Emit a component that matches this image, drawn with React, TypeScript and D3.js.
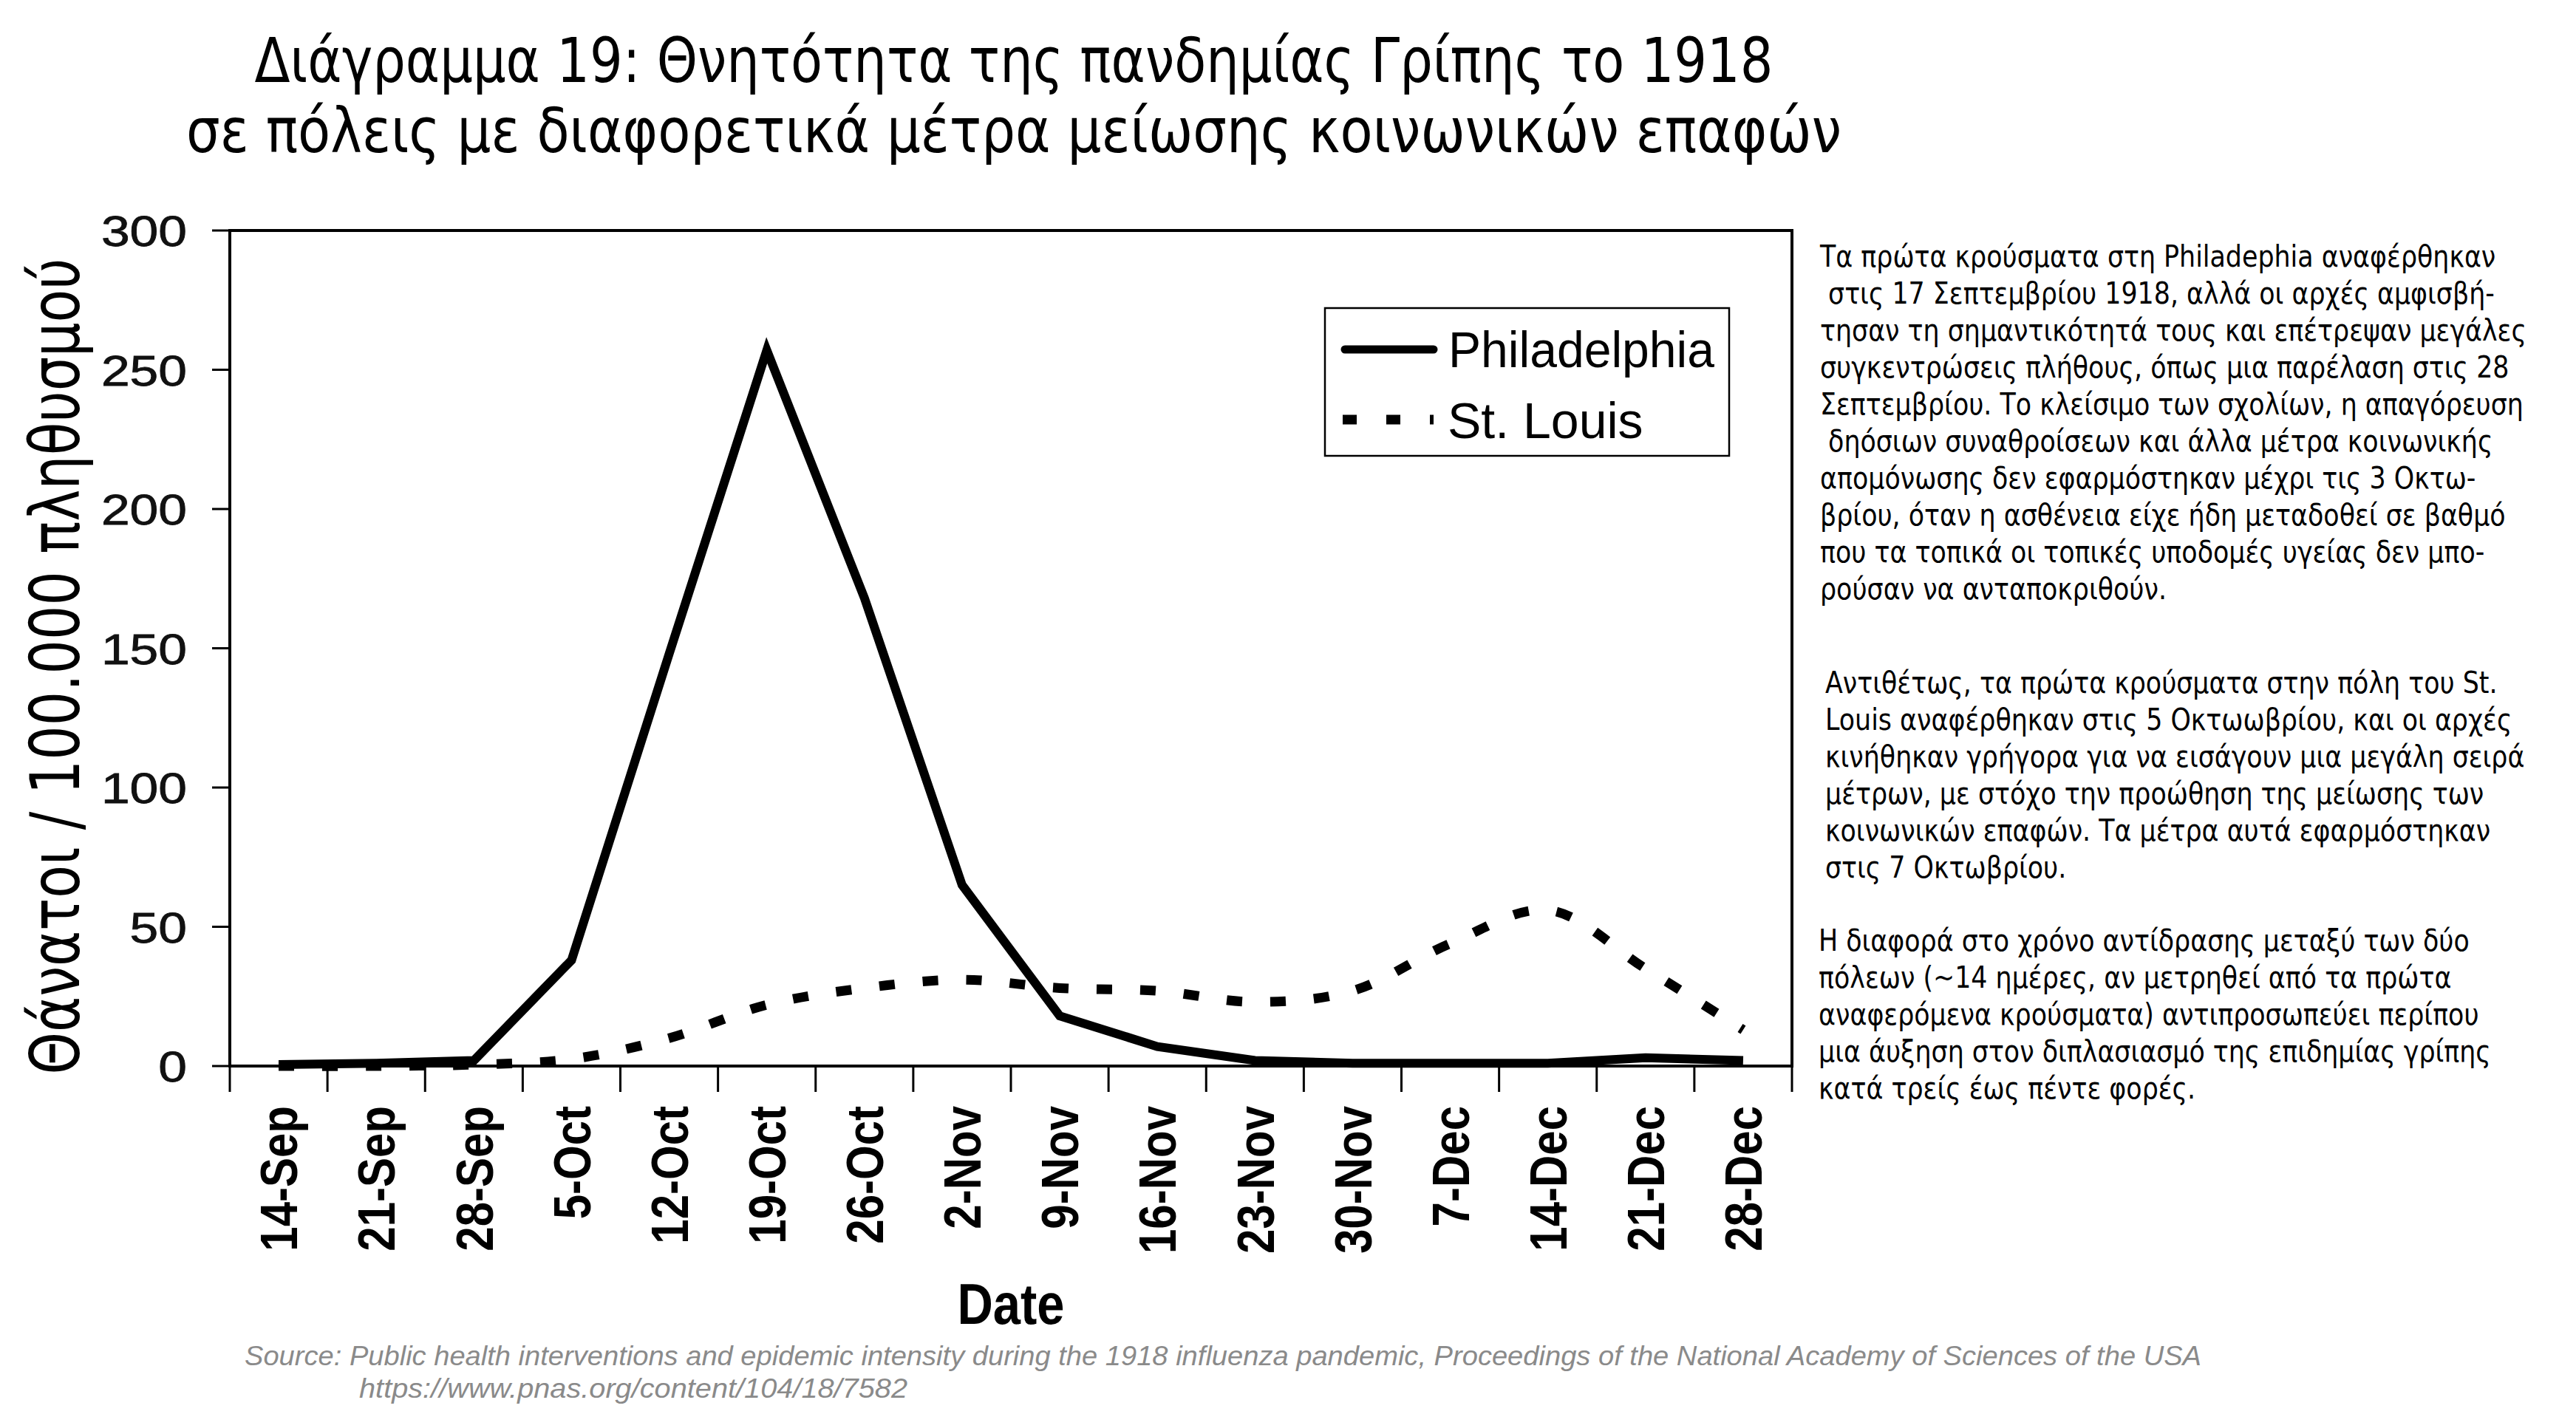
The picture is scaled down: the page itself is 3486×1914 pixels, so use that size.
import React from 'react';
import * as d3 from 'd3';

const categories = ['14-Sep', '21-Sep', '28-Sep', '5-Oct', '12-Oct', '19-Oct', '26-Oct', '2-Nov', '9-Nov', '16-Nov', '23-Nov', '30-Nov', '7-Dec', '14-Dec', '21-Dec', '28-Dec'];
const philadelphia = [0.5, 1, 2, 38, 148, 257, 168, 65, 18, 7, 2, 1, 1, 1, 3, 2];
const stLouis = [0, 0, 0.5, 2.5, 10, 22, 28, 31, 28, 27, 23, 27, 44, 56, 35, 13];
const yTicks = [0, 50, 100, 150, 200, 250, 300];
const seriesNames = ['Philadelphia', 'St. Louis'];

const titleLines = [
  'Διάγραμμα 19: Θνητότητα της πανδημίας Γρίπης το 1918',
  'σε πόλεις με διαφορετικά μέτρα μείωσης κοινωνικών επαφών',
];
const yTitle = 'Θάνατοι / 100.000 πληθυσμού';
const xTitle = 'Date';

const note1 = [
  'Τα πρώτα κρούσματα στη Philadephia αναφέρθηκαν',
  ' στις 17 Σεπτεμβρίου 1918, αλλά οι αρχές αμφισβή-',
  'τησαν τη σημαντικότητά τους και επέτρεψαν μεγάλες',
  'συγκεντρώσεις πλήθους, όπως μια παρέλαση στις 28',
  'Σεπτεμβρίου. Το κλείσιμο των σχολίων, η απαγόρευση',
  ' δηόσιων συναθροίσεων και άλλα μέτρα κοινωνικής',
  'απομόνωσης δεν εφαρμόστηκαν μέχρι τις 3 Οκτω-',
  'βρίου, όταν η ασθένεια είχε ήδη μεταδοθεί σε βαθμό',
  'που τα τοπικά οι τοπικές υποδομές υγείας δεν μπο-',
  'ρούσαν να ανταποκριθούν.',
];
const note2 = [
  'Αντιθέτως, τα πρώτα κρούσματα στην πόλη του St.',
  'Louis αναφέρθηκαν στις 5 Οκτωωβρίου, και οι αρχές',
  'κινήθηκαν γρήγορα για να εισάγουν μια μεγάλη σειρά',
  'μέτρων, με στόχο την προώθηση της μείωσης των',
  'κοινωνικών επαφών. Τα μέτρα αυτά εφαρμόστηκαν',
  'στις 7 Οκτωβρίου.',
];
const note3 = [
  'Η διαφορά στο χρόνο αντίδρασης μεταξύ των δύο',
  'πόλεων (~14 ημέρες, αν μετρηθεί από τα πρώτα',
  'αναφερόμενα κρούσματα) αντιπροσωπεύει περίπου',
  'μια άυξηση στον διπλασιασμό της επιδημίας γρίπης',
  'κατά τρείς έως πέντε φορές.',
];
const sourceLines = [
  'Source: Public health interventions and epidemic intensity during the 1918 influenza pandemic, Proceedings of the National Academy of Sciences of the USA',
  'https://www.pnas.org/content/104/18/7582',
];

const W = 3486;
const H = 1914;
const M = { left: 311, right: 2425, top: 312, bottom: 1443 };
const GREEK = "'DejaVu Sans', Verdana, sans-serif";
const ARIAL = "'Liberation Sans', Arial, sans-serif";

export default function App() {
  const x = d3.scaleBand<string>().domain(categories).range([M.left, M.right]).padding(0);
  const bw = x.bandwidth();
  const cx = (c: string) => (x(c) as number) + bw / 2;
  const y = d3.scaleLinear().domain([0, 300]).range([M.bottom, M.top]);

  const linePhl = d3.line<number>().x((_, i) => cx(categories[i])).y((d) => y(d)).curve(d3.curveLinear);
  const lineStl = d3.line<number>().x((_, i) => cx(categories[i])).y((d) => y(d)).curve(d3.curveCatmullRom.alpha(0.5));

  const boundaries = d3.range(categories.length + 1).map((i) => M.left + i * bw);

  const noteBlock = (lines: string[], x0: number, y0: number) => (
    <g transform={`translate(${x0},${y0}) scale(0.85,1)`}>
      {lines.map((l, i) => (
        <text key={i} x={0} y={i * 50} fontFamily={GREEK} fontSize={41} fill="#000" style={{ whiteSpace: 'pre' }}>
          {l}
        </text>
      ))}
    </g>
  );

  return (
    <svg width={W} height={H} style={{ position: 'fixed', left: 0, top: 0, background: '#fff' }}>
      <rect x={0} y={0} width={W} height={H} fill="#fff" />
      {/* Title */}
      {titleLines.map((t, i) => (
        <text key={i} x={1372} y={[111, 206][i]} textAnchor="middle" fontFamily={GREEK} fontSize={83}
          textLength={[2055, 2240][i]} lengthAdjust="spacingAndGlyphs" fill="#000">
          {t}
        </text>
      ))}

      {/* y ticks & labels */}
      {yTicks.map((v) => (
        <g key={v}>
          <line x1={M.left - 24} x2={M.left} y1={y(v)} y2={y(v)} stroke="#000" strokeWidth={3} />
          <g transform={`translate(253,${y(v) + 21}) scale(1.2,1)`}>
            <text x={0} y={0} textAnchor="end" fontFamily={ARIAL} fontSize={58} fill="#111" stroke="#111" strokeWidth={0.8}>{v}</text>
          </g>
        </g>
      ))}

      {/* x ticks */}
      {boundaries.map((bx, i) => (
        <line key={i} x1={bx} x2={bx} y1={M.bottom} y2={M.bottom + 35} stroke="#000" strokeWidth={3} />
      ))}
      {categories.map((c) => (
        <g key={c} transform={`translate(${cx(c)},1497) scale(1.17,1) rotate(-90)`}>
          <text x={0} y={0} dy="0.36em" textAnchor="end" fontFamily={ARIAL} fontWeight="bold" fontSize={60} fill="#000">
            {c}
          </text>
        </g>
      ))}

      {/* series */}
      <path d={lineStl(stLouis) || ''} fill="none" stroke="#000" strokeWidth={13} strokeDasharray="21 38" />
      <path d={linePhl(philadelphia) || ''} fill="none" stroke="#000" strokeWidth={12} strokeLinejoin="miter" />

      {/* frame */}
      <rect x={M.left} y={M.top} width={M.right - M.left} height={M.bottom - M.top} fill="none" stroke="#000" strokeWidth={4} />

      {/* legend */}
      <rect x={1793} y={417} width={547} height={200} fill="#fff" stroke="#000" strokeWidth={2.5} />
      <line x1={1820} x2={1940} y1={473} y2={473} stroke="#000" strokeWidth={11} strokeLinecap="round" />
      <text x={1960} y={497} fontFamily={ARIAL} fontSize={68} textLength={360} lengthAdjust="spacingAndGlyphs">{seriesNames[0]}</text>
      <line x1={1817} x2={1940} y1={568} y2={568} stroke="#000" strokeWidth={13} strokeDasharray="19 40" />
      <text x={1959} y={593} fontFamily={ARIAL} fontSize={68}>{seriesNames[1]}</text>

      {/* axis titles */}
      <g transform={`translate(107,902) rotate(-90)`}>
        <text x={0} y={0} textAnchor="middle" fontFamily={GREEK} fontSize={92} textLength={1105} lengthAdjust="spacingAndGlyphs">
          {yTitle}
        </text>
      </g>
      <text x={1368} y={1792} textAnchor="middle" fontFamily={ARIAL} fontWeight="bold" fontSize={77} textLength={145} lengthAdjust="spacingAndGlyphs">
        {xTitle}
      </text>

      {/* notes */}
      {noteBlock(note1, 2463, 361)}
      {noteBlock(note2, 2470, 938)}
      {noteBlock(note3, 2461, 1287)}

      {/* source */}
      <text x={331} y={1848} fontFamily={ARIAL} fontStyle="italic" fontSize={37} fill="#8a8a8a" textLength={2648} lengthAdjust="spacingAndGlyphs">
        {sourceLines[0]}
      </text>
      <text x={486} y={1892} fontFamily={ARIAL} fontStyle="italic" fontSize={37} fill="#8a8a8a" textLength={742} lengthAdjust="spacingAndGlyphs">
        {sourceLines[1]}
      </text>
    </svg>
  );
}
